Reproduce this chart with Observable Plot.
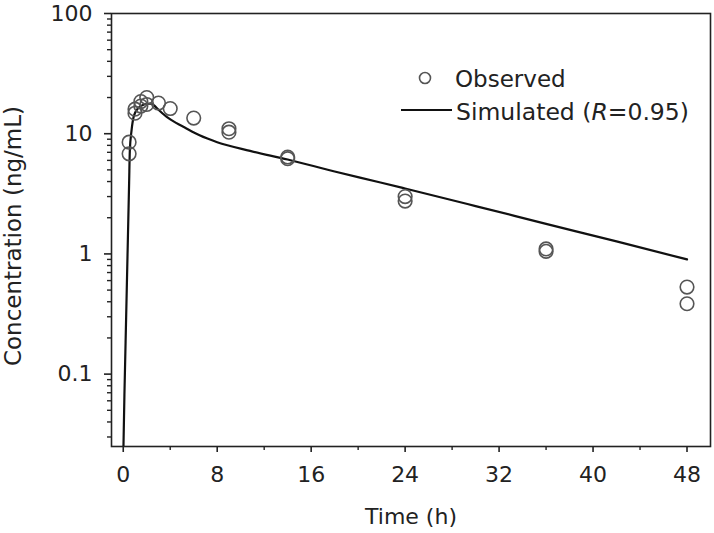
<!DOCTYPE html>
<html><head><meta charset="utf-8">
<script src="https://cdn.jsdelivr.net/npm/d3@7"></script>
<script src="https://cdn.jsdelivr.net/npm/@observablehq/plot@0.6"></script>
<style>
body{margin:0;background:#fff;font-family:"DejaVu Sans",sans-serif;}
#wrap{position:relative;width:714px;height:533px;}
#legend{position:absolute;left:0;top:0;width:714px;height:533px;pointer-events:none;}
</style></head><body>
<div id="wrap"><div id="chart"></div><div id="legend"></div></div>
<script>
// Observed concentrations (ng/mL)
const obsTime = [0.5,0.5,1,1,1.5,1.5,2,2,3,4,6,9,9,14,14,24,24,36,36,48,48];
const obsConc = [8.5,6.8,16,14.8,18.5,17,20,17.5,18,16.2,13.5,11,10.3,6.4,6.2,3.0,2.75,1.1,1.05,0.53,0.385];
// Simulated curve
const simTime = [0,0.1,0.2,0.3,0.4,0.5,0.56,0.7,0.9,1.2,1.6,2.0,2.3,2.6,3.0,3.7,4.5,5.2,6.5,8,10.8,14,18,21.9,24,30,36,42,48];
const simConc = [0.02,0.067,0.185,0.51,1.41,3.9,7.2,10.5,14,16,17.2,17.7,17.8,17.3,15.8,13.8,12.3,11.3,9.7,8.5,7.2,6.1,4.85,3.93,3.5,2.5,1.78,1.27,0.9];
// Axis ticks
const yMajor = [0.1,1,10,100];
const yMinor = [0.03,0.04,0.05,0.06,0.07,0.08,0.09,0.2,0.3,0.4,0.5,0.6,0.7,0.8,0.9,2,3,4,5,6,7,8,9,20,30,40,50,60,70,80,90];
const xMajor = [0,8,16,24,32,40,48];
const xMinor = [4,12,20,28,36,44];
const yTitle = ["Concentration (ng/mL)"];

const obs = obsTime.map((t,i)=>({t, c: obsConc[i]}));
const sim = simTime.map((t,i)=>({t, c: simConc[i]}));

const font = "DejaVu Sans, sans-serif";
const chart = Plot.plot({
  width: 714, height: 533,
  marginLeft: 111, marginRight: 4, marginTop: 13, marginBottom: 87,
  style: {fontFamily: font, fontSize: "22px", color: "#222", background: "#fff"},
  x: {domain: [-1, 50]},
  y: {type: "log", domain: [0.025, 100]},
  marks: [
    Plot.frame({stroke: "#222", strokeWidth: 1.6}),
    Plot.tickY(yMinor, {y: d => d, stroke: "#222", strokeWidth: 1.4, render(index, scales, values, dims, context, next) {
      const g = next(index, scales, values, dims, context);
      const x0 = dims.marginLeft;
      d3.select(g).selectAll("line").attr("x1", x0 - 4).attr("x2", x0);
      return g;
    }}),
    Plot.tickX(xMinor, {x: d => d, stroke: "#222", strokeWidth: 1.4, render(index, scales, values, dims, context, next) {
      const g = next(index, scales, values, dims, context);
      const y0 = dims.height - dims.marginBottom;
      d3.select(g).selectAll("line").attr("y1", y0).attr("y2", y0 + 4);
      return g;
    }}),
    Plot.axisY({ticks: yMajor, tickSize: 7, tickPadding: 12, tickFormat: d => String(d), label: null, strokeWidth: 1.6, fontSize: 22, anchor: "left"}),
    Plot.axisX({ticks: xMajor, tickSize: 6, tickPadding: 14, label: "Time (h)", labelAnchor: "center", labelArrow: "none", labelOffset: 77, strokeWidth: 1.6, fontSize: 22, anchor: "bottom"}),
    Plot.text(yTitle, {frameAnchor: "left", text: d => d, rotate: -90, dx: -107, dy: 6, lineAnchor: "top", textAnchor: "middle", fontSize: 23, fill: "#222"}),
    Plot.line(sim, {x: "t", y: "c", stroke: "#111", strokeWidth: 2.2, clip: true, curve: "monotone-x"}),
    Plot.dot(obs, {x: "t", y: "c", r: 6.8, stroke: "#555", strokeWidth: 1.6, fill: "none"})
  ]
});
document.getElementById("chart").appendChild(chart);

// Legend
document.getElementById("legend").innerHTML = `
<svg width="714" height="533" style="position:absolute;left:0;top:0">
  <circle cx="425" cy="78" r="5.5" fill="none" stroke="#555" stroke-width="1.6"/>
  <line x1="401" y1="110" x2="452" y2="110" stroke="#111" stroke-width="2.2"/>
  <text x="455" y="86.5" font-family="${font}" font-size="23" fill="#222">Observed</text>
  <text x="456" y="119.5" font-family="${font}" font-size="23.5" fill="#222">Simulated (<tspan font-style="italic">R</tspan>=0.95)</text>
</svg>`;
</script>
</body></html>
